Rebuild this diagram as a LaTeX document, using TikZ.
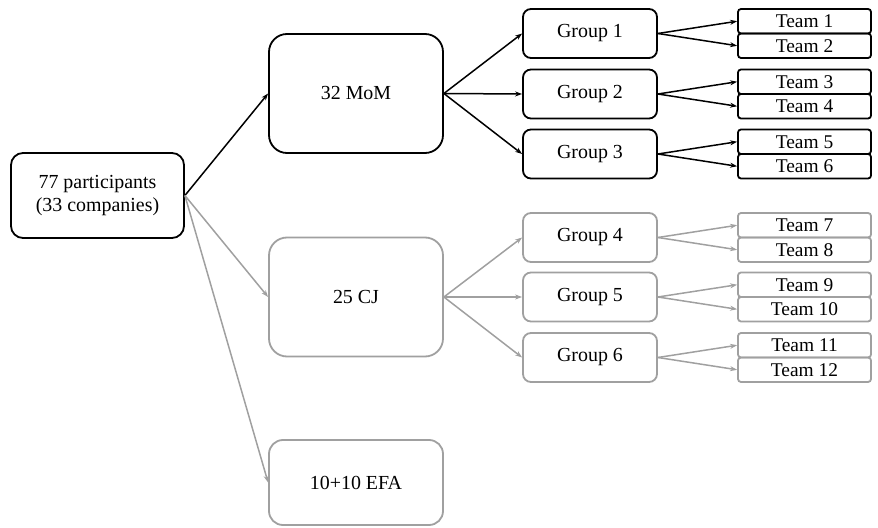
\documentclass[tikz,border=0pt]{standalone}
\usepackage{fontspec}
\setmainfont{Liberation Serif}
\usetikzlibrary{arrows.meta}
\definecolor{gr}{RGB}{160,160,160}
\begin{document}
\begin{tikzpicture}[x=1bp,y=-1bp,
  box/.style={draw, line width=1.8bp, align=center, inner sep=0pt, font=\fontsize{20}{22.5}\selectfont},
  rootbox/.style={box, minimum width=173bp, minimum height=85bp, rounded corners=12bp},
  bigbox/.style={box, minimum width=174bp, minimum height=119bp, rounded corners=18bp},
  grpbox/.style={box, minimum width=134bp, minimum height=49bp, rounded corners=8bp},
  teambox/.style={box, minimum width=133bp, minimum height=24.5bp, rounded corners=3bp, font=\fontsize{19.5}{20}\selectfont},
  conn/.style={line width=1.5bp, -{Stealth[length=7bp,width=5bp]}}]
\useasboundingbox (0,0) rectangle (878,528);
% root
\node[rootbox] (root) at (97.5,195.5) {77 participants\\(33 companies)};
% level 1
\node[bigbox] (mom) at (356,93.5) {32 MoM};
\node[bigbox, draw=gr] (cj) at (356,297) {25 CJ};
\node[bigbox, draw=gr, minimum height=85bp, rounded corners=14bp] (efa) at (356,482.5) {10+10 EFA};
% groups
\node[grpbox] (g1) at (590,33.5) {Group 1};
\node[grpbox] (g2) at (590,94) {Group 2};
\node[grpbox] (g3) at (590,154) {Group 3};
\node[grpbox, draw=gr] (g4) at (590,237.5) {Group 4};
\node[grpbox, draw=gr] (g5) at (590,297) {Group 5};
\node[grpbox, draw=gr] (g6) at (590,357.5) {Group 6};
% teams
\node[teambox] (t1) at (804.5,21.25) {Team 1};
\node[teambox] (t2) at (804.5,45.75) {Team 2};
\node[teambox] (t3) at (804.5,81.75) {Team 3};
\node[teambox] (t4) at (804.5,106.25) {Team 4};
\node[teambox] (t5) at (804.5,141.75) {Team 5};
\node[teambox] (t6) at (804.5,166.25) {Team 6};
\node[teambox, draw=gr] (t7) at (804.5,225.25) {Team 7};
\node[teambox, draw=gr] (t8) at (804.5,249.75) {Team 8};
\node[teambox, draw=gr] (t9) at (804.5,284.75) {Team 9};
\node[teambox, draw=gr] (t10) at (804.5,309.25) {Team 10};
\node[teambox, draw=gr] (t11) at (804.5,345.25) {Team 11};
\node[teambox, draw=gr] (t12) at (804.5,369.75) {Team 12};
% connectors
\draw[conn] (root.east) -- (mom.west);
\draw[conn, gr] (root.east) -- (cj.west);
\draw[conn, gr] (root.east) -- (efa.west);
\draw[conn] (mom.east) -- (g1.west);
\draw[conn] (mom.east) -- (g2.west);
\draw[conn] (mom.east) -- (g3.west);
\draw[conn, gr] (cj.east) -- (g4.west);
\draw[conn, gr] (cj.east) -- (g5.west);
\draw[conn, gr] (cj.east) -- (g6.west);
\draw[conn] (g1.east) -- (t1.west);
\draw[conn] (g1.east) -- (t2.west);
\draw[conn] (g2.east) -- (t3.west);
\draw[conn] (g2.east) -- (t4.west);
\draw[conn] (g3.east) -- (t5.west);
\draw[conn] (g3.east) -- (t6.west);
\draw[conn, gr] (g4.east) -- (t7.west);
\draw[conn, gr] (g4.east) -- (t8.west);
\draw[conn, gr] (g5.east) -- (t9.west);
\draw[conn, gr] (g5.east) -- (t10.west);
\draw[conn, gr] (g6.east) -- (t11.west);
\draw[conn, gr] (g6.east) -- (t12.west);
\end{tikzpicture}
\end{document}
